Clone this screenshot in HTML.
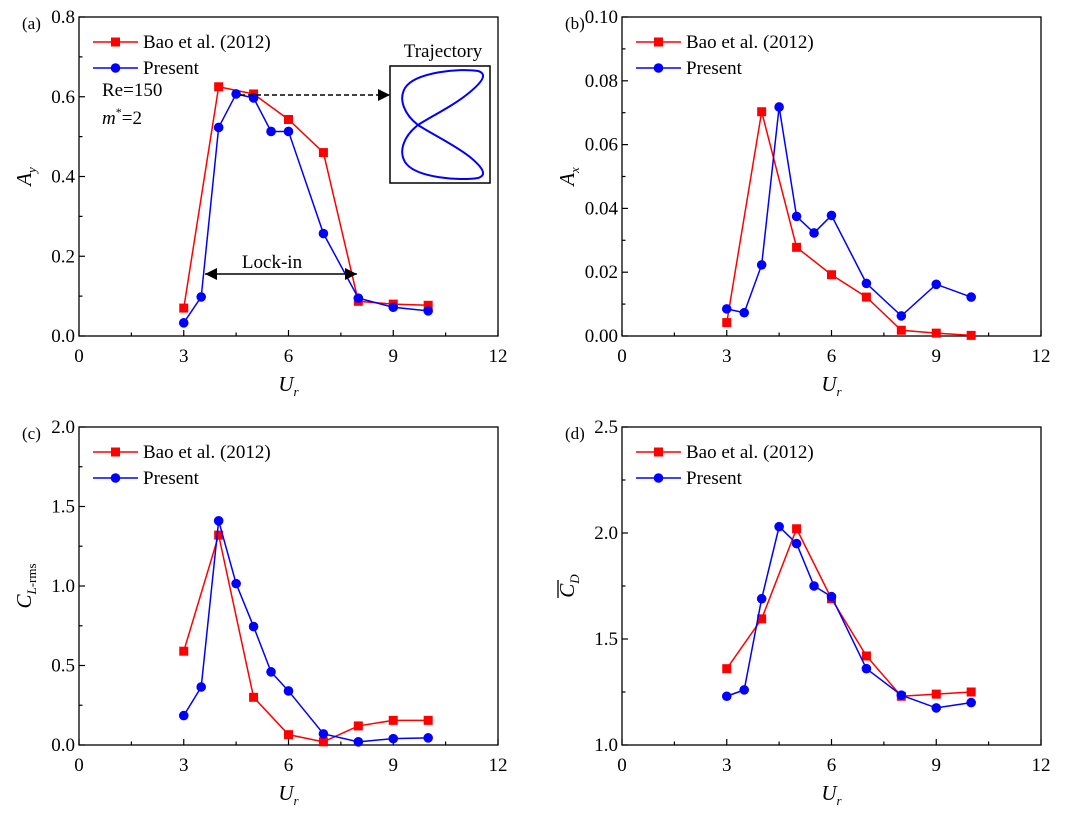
<!DOCTYPE html>
<html><head><meta charset="utf-8"><style>
html,body{margin:0;padding:0;background:#fff;}
svg{display:block;font-family:"Liberation Serif",serif;}
</style></head><body>
<svg id="fig" width="1080" height="820" viewBox="0 0 1080 820" xmlns="http://www.w3.org/2000/svg"></svg>
<script>
const xTicks=[0,3,6,9,12];
const xA=[3,4,5,6,7,8,9,10];
const xP=[3,3.5,4,4.5,5,5.5,6,7,8,9,10];
const aBao=[0.07,0.625,0.607,0.543,0.46,0.087,0.08,0.077];
const aPre=[0.033,0.098,0.523,0.607,0.597,0.513,0.513,0.257,0.095,0.072,0.063];
const bBao=[0.0042,0.0703,0.0278,0.0192,0.0122,0.0018,0.0009,0.0002];
const bPre=[0.0085,0.0073,0.0223,0.0718,0.0375,0.0323,0.0378,0.0165,0.0063,0.0162,0.0122];
const cBao=[0.59,1.32,0.30,0.065,0.02,0.12,0.155,0.155];
const cPre=[0.185,0.365,1.41,1.015,0.745,0.46,0.34,0.07,0.02,0.04,0.045];
const dBao=[1.36,1.595,2.02,1.69,1.42,1.23,1.24,1.25];
const dPre=[1.23,1.26,1.69,2.03,1.95,1.75,1.70,1.36,1.235,1.175,1.20];
const aTicks=["0.0","0.2","0.4","0.6","0.8"];
const bTicks=["0.00","0.02","0.04","0.06","0.08","0.10"];
const cTicks=["0.0","0.5","1.0","1.5","2.0"];
const dTicks=["1.0","1.5","2.0","2.5"];

const svg=document.getElementById('fig');
const NS='http://www.w3.org/2000/svg';
function mk(tag,attrs,parent){const e=document.createElementNS(NS,tag);for(const k in attrs)e.setAttribute(k,attrs[k]);(parent||svg).appendChild(e);return e;}

function panel(id,L,R,T,B,ymin,ymax,yTicks,bao,pre,letter,ylab){
  const g=mk('g',{});
  
  
  const sx=v=>L+(v-0)/12*(R-L);
  const sy=v=>B-(v-ymin)/(ymax-ymin)*(B-T);
  const frame=mk('rect',{x:L,y:T,width:R-L,height:B-T,fill:'none',stroke:'#000','stroke-width':1.3},g);
  
  
  for(let i=0;i<xTicks.length;i++){
    const v=xTicks[i];
    mk('line',{x1:sx(v),x2:sx(v),y1:B,y2:B-6,stroke:'#000','stroke-width':1.2},g);
    if(i<xTicks.length-1){const m=v+1.5;mk('line',{x1:sx(m),x2:sx(m),y1:B,y2:B-3.5,stroke:'#000','stroke-width':1.2},g);}
    const t=mk('text',{x:sx(v),y:B+26,'text-anchor':'middle','font-size':19},g);t.textContent=v;
    
    
  }
  const n=yTicks.length;
  for(let i=0;i<n;i++){
    const v=ymin+(ymax-ymin)*i/(n-1);
    mk('line',{x1:L,x2:L+6,y1:sy(v),y2:sy(v),stroke:'#000','stroke-width':1.2},g);
    if(i<n-1){const m=v+(ymax-ymin)/(n-1)/2;mk('line',{x1:L,x2:L+3.5,y1:sy(m),y2:sy(m),stroke:'#000','stroke-width':1.2},g);}
    const t=mk('text',{x:L-4,y:sy(v)+6,'text-anchor':'end','font-size':19},g);t.textContent=yTicks[i];
    
    
  }
  const xl=mk('text',{x:(L+R)/2,y:B+55,'text-anchor':'middle','font-size':21,'font-style':'italic'},g);
  xl.innerHTML='U<tspan font-size="13" dy="5">r</tspan>';
  
  
  const lt=mk('text',{x:L-57,y:T+12,'font-size':17},g);lt.textContent='('+letter+')';
  
  
  const yl=mk('g',{transform:`translate(${L-48},${(T+B)/2}) rotate(-90)`},g);
  
  
  yl.innerHTML=ylab;
  function series(xs,ys,color,marker,name){
    const sg=mk('g',{},g);
    
    
    mk('polyline',{points:xs.map((x,i)=>sx(x)+','+sy(ys[i])).join(' '),fill:'none',stroke:color,'stroke-width':1.5},sg);
    xs.forEach((x,i)=>{
      let m;
      if(marker==='sq') m=mk('rect',{x:sx(x)-4.5,y:sy(ys[i])-4.5,width:9,height:9,fill:color},sg);
      else m=mk('circle',{cx:sx(x),cy:sy(ys[i]),r:4.8,fill:color},sg);
      
      
    });
  }
  series(xA,bao,'#ff0000','sq','series-bao');
  series(xP,pre,'#0000ff','ci','series-present');
  const lg=mk('g',{},g);
  
  
  const lx=L+14, ly1=T+25, ly2=T+51;
  mk('line',{x1:lx,x2:lx+45,y1:ly1,y2:ly1,stroke:'#ff0000','stroke-width':1.5},lg);
  mk('rect',{x:lx+18,y:ly1-4.5,width:9,height:9,fill:'#ff0000'},lg);
  const t1=mk('text',{x:lx+50,y:ly1+6,'font-size':19},lg);t1.textContent='Bao et al. (2012)';
  
  
  mk('line',{x1:lx,x2:lx+45,y1:ly2,y2:ly2,stroke:'#0000ff','stroke-width':1.5},lg);
  mk('circle',{cx:lx+22.5,cy:ly2,r:4.8,fill:'#0000ff'},lg);
  const t2=mk('text',{x:lx+50,y:ly2+6,'font-size':19},lg);t2.textContent='Present';
  
  
  return {g,sx,sy};
}

const pa=panel('a',79,498,17,336,0,0.8,aTicks,aBao,aPre,'a','<text text-anchor="middle" font-size="21" font-style="italic">A<tspan font-size="13" dy="5">y</tspan></text>');
panel('b',622,1041,17,336,0,0.10,bTicks,bBao,bPre,'b','<text text-anchor="middle" font-size="21" font-style="italic">A<tspan font-size="13" dy="5">x</tspan></text>');
panel('c',79,498,427,745,0,2.0,cTicks,cBao,cPre,'c','<text text-anchor="middle" font-size="21" font-style="italic">C<tspan font-size="13" dy="5" font-style="italic">L</tspan><tspan font-size="13" font-style="normal">-rms</tspan></text>');
panel('d',622,1041,427,745,1.0,2.5,dTicks,dBao,dPre,'d','<line x1="-12" x2="6" y1="-16" y2="-16" stroke="#000" stroke-width="1.3"/><text text-anchor="middle" font-size="21" font-style="italic">C<tspan font-size="13" dy="5">D</tspan></text>');

const ann=mk('g',{},pa.g);


const re=mk('text',{x:102,y:96,'font-size':19},ann);re.textContent='Re=150';


const ms=mk('text',{x:102,y:124,'font-size':19},ann);ms.innerHTML='<tspan font-style="italic">m</tspan><tspan font-size="12" dy="-8">*</tspan><tspan dy="8">=2</tspan>';


const defs=mk('defs',{});
defs.innerHTML='<marker id="ah" viewBox="0 0 10 10" refX="10" refY="5" markerWidth="8" markerHeight="8" orient="auto-start-reverse"><path d="M0,0 L10,5 L0,10 z" fill="#000"/></marker>';
const lock=mk('line',{x1:205,x2:357,y1:274,y2:274,stroke:'#000','stroke-width':1.5,'marker-start':'url(#ah)','marker-end':'url(#ah)'},ann);


const lt=mk('text',{x:272,y:268,'text-anchor':'middle','font-size':19},ann);lt.textContent='Lock-in';


const da=mk('line',{x1:240,x2:390,y1:95,y2:95,stroke:'#000','stroke-width':1.5,'stroke-dasharray':'5,3','marker-end':'url(#ah)'},ann);


const tt=mk('text',{x:443,y:57,'text-anchor':'middle','font-size':19},ann);tt.textContent='Trajectory';


const box=mk('rect',{x:390,y:66,width:100,height:117,fill:'#fff',stroke:'#000','stroke-width':1.5},ann);


const fig8=mk('path',{d:'M418,125 C405,115 398,100 405,88 C415,72 460,68 478,71 C488,74 482,82 470,92 C455,105 430,117 418,125 C405,135 398,150 405,162 C415,178 460,181 478,178 C488,175 482,167 470,157 C455,145 430,133 418,125 Z',fill:'none',stroke:'#0000ff','stroke-width':2},ann);


</script>
</body></html>
